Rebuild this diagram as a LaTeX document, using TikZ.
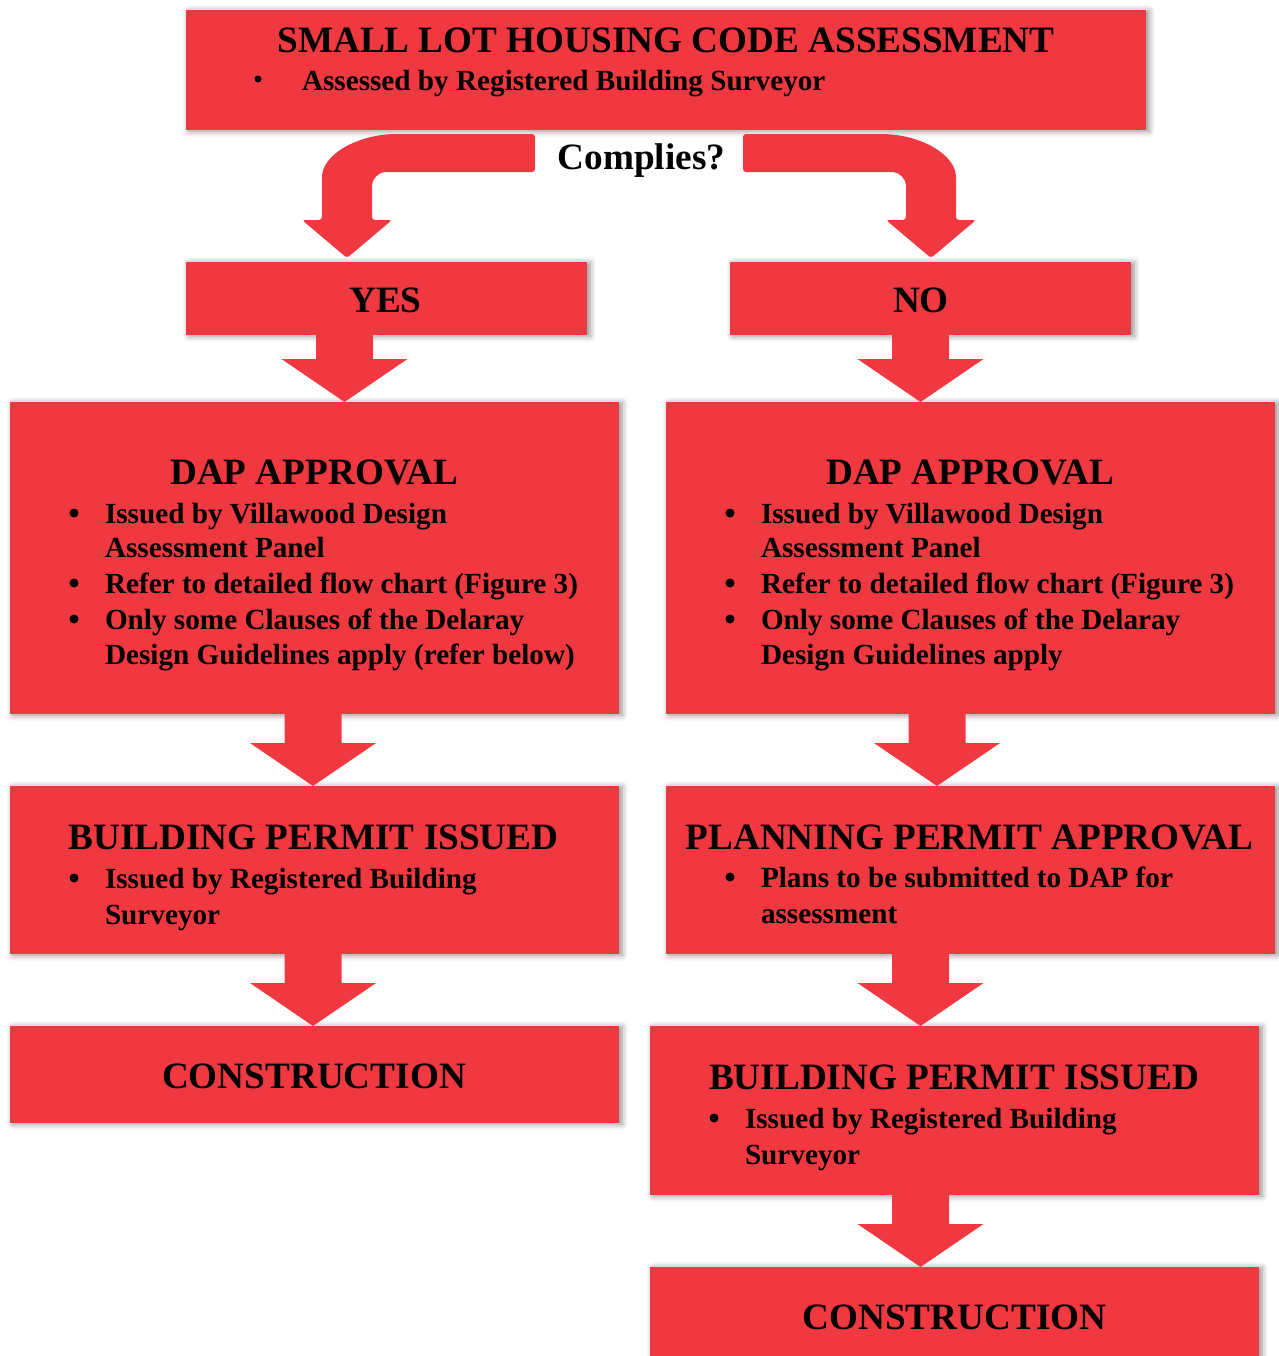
\documentclass[tikz,border=0pt]{standalone}
\usepackage{fontspec}
\setmainfont{Liberation Serif}
\usepackage{xcolor}
\usetikzlibrary{calc, shadows.blur}
\definecolor{vermelho}{RGB}{239,56,64}

\begin{document}
\begin{tikzpicture}[
		    x=0.5pt, y=-0.5pt,
		    every node/.style={inner sep=0pt, outer sep=0pt}
		]
		\tikzset{
		    caixa/.style={fill=vermelho, blur shadow={shadow xshift=1.5pt, shadow yshift=-0.5pt, shadow blur radius=3pt, shadow opacity=45}},
		    titulo/.style={anchor=base, font=\bfseries\fontsize{18.6}{22}\selectfont},
		    texto/.style={anchor=base west, font=\bfseries\fontsize{14.6}{17.5}\selectfont},
		    marca/.style={circle, fill=black, minimum size=4.5pt},
		    marquinha/.style={circle, fill=black, minimum size=3.5pt},
		    seta/.style={fill=vermelho, to path={
		        let \p1=(\tikztostart), \p2=(\tikztotarget) in
		        (\x1-14.25pt,\y1) -- (\x1-14.25pt,\y2+21.5pt) -- (\x1-31.5pt,\y2+21.5pt)
		        -- (\x1,\y2) -- (\x1+31.5pt,\y2+21.5pt) -- (\x1+14.25pt,\y2+21.5pt)
		        -- (\x1+14.25pt,\y1) -- cycle}}
		}
		\useasboundingbox (0,0) rectangle (1279,1356);

		% caixas
		\node[caixa, minimum width=480pt, minimum height=60pt] (topo) at (666,70) {};
		\node[caixa, minimum width=200.5pt, minimum height=36.5pt] (yes) at (386.5,298.5) {};
		\node[caixa, minimum width=200.5pt, minimum height=36.5pt] (no) at (930.5,298.5) {};
		\node[caixa, minimum width=304.5pt, minimum height=156pt] (dap1) at (314.5,558) {};
		\node[caixa, minimum width=304.5pt, minimum height=156pt] (dap2) at (970.5,558) {};
		\node[caixa, minimum width=304.5pt, minimum height=84pt] (bp1) at (314.5,870) {};
		\node[caixa, minimum width=304.5pt, minimum height=84pt] (ppa) at (970.5,870) {};
		\node[caixa, minimum width=304.5pt, minimum height=48.5pt] (con1) at (314.5,1074.5) {};
		\node[caixa, minimum width=304.5pt, minimum height=84.5pt] (bp2) at (954.5,1110.5) {};
		\node[caixa, minimum width=304.5pt, minimum height=56.5pt] (con2) at (954.5,1323.5) {};

		% setas curvas
		\fill[vermelho, rounded corners=1.5pt] (535,134) -- (400,134) .. controls (357,134) and (322,155) .. (322,180)
		  -- (322,220) -- (302,220) -- (347,258) -- (392,220) -- (372,220) -- (372,188)
		  .. controls (372,179) and (379,172) .. (388,172) -- (535,172) -- cycle;
		\begin{scope}[xshift=639pt, xscale=-1]
		\fill[vermelho, rounded corners=1.5pt] (535,134) -- (400,134) .. controls (357,134) and (322,155) .. (322,180)
		  -- (322,220) -- (302,220) -- (347,258) -- (392,220) -- (372,220) -- (372,188)
		  .. controls (372,179) and (379,172) .. (388,172) -- (535,172) -- cycle;
		\end{scope}

		% setas
		\path[seta] ([xshift=-21pt]yes.south) to (dap1.north);
		\path[seta] ([xshift=-5pt]no.south) to (dap2.north);
		\path[seta] ([xshift=-0.75pt]dap1.south) to (bp1.north);
		\path[seta] ([xshift=-16.75pt]dap2.south) to (ppa.north);
		\path[seta] ([xshift=-0.75pt]bp1.south) to (con1.north);
		\path[seta] ([xshift=-25pt]ppa.south) to (bp2.north);
		\path[seta] ([xshift=-17pt]bp2.south) to (con2.north);

		% textos
		\node[titulo] (topot) at (666,52) {SMALL LOT HOUSING CODE ASSESSMENT};
		\node[marquinha] (topob) at (258,79) {};
		\node[texto] (topoa) at (302,90) {Assessed by Registered Building Surveyor};
		\node[titulo] (pergunta) at (641.5,169) {Complies?};
		\node[titulo] (yest) at (385.5,312) {YES};
		\node[titulo] (not) at (921,312) {NO};

		\node[titulo] (dap1t) at (314,484) {DAP APPROVAL};
		\node[marca] (dap1b1) at (74,513) {};
		\node[texto] (dap1a) at (105,523) {Issued by Villawood Design};
		\node[texto] (dap1c) at (105,557) {Assessment Panel};
		\node[marca] (dap1b2) at (74,583) {};
		\node[texto] (dap1d) at (105,593) {Refer to detailed flow chart (Figure 3)};
		\node[marca] (dap1b3) at (74,619) {};
		\node[texto] (dap1e) at (105,629) {Only some Clauses of the Delaray};
		\node[texto] (dap1f) at (105,664) {Design Guidelines apply (refer below)};

		\node[titulo] (dap2t) at (970,484) {DAP APPROVAL};
		\node[marca] (dap2b1) at (730,513) {};
		\node[texto] (dap2a) at (761,523) {Issued by Villawood Design};
		\node[texto] (dap2c) at (761,557) {Assessment Panel};
		\node[marca] (dap2b2) at (730,583) {};
		\node[texto] (dap2d) at (761,593) {Refer to detailed flow chart (Figure 3)};
		\node[marca] (dap2b3) at (730,619) {};
		\node[texto] (dap2e) at (761,629) {Only some Clauses of the Delaray};
		\node[texto] (dap2f) at (761,664) {Design Guidelines apply};

		\node[titulo] (bp1t) at (313.5,849) {BUILDING PERMIT ISSUED};
		\node[marca] (bp1b) at (74,878) {};
		\node[texto] (bp1a) at (105,888) {Issued by Registered Building};
		\node[texto] (bp1c) at (105,924) {Surveyor};

		\node[titulo] (ppat) at (969.5,849) {PLANNING PERMIT APPROVAL};
		\node[marca] (ppab) at (730,877) {};
		\node[texto] (ppaa) at (761,887) {Plans to be submitted to DAP for};
		\node[texto] (ppac) at (761,923) {assessment};

		\node[titulo] (con1t) at (314,1088) {CONSTRUCTION};

		\node[titulo] (bp2t) at (954,1089) {BUILDING PERMIT ISSUED};
		\node[marca] (bp2b) at (714,1118) {};
		\node[texto] (bp2a) at (745,1128) {Issued by Registered Building};
		\node[texto] (bp2c) at (745,1164) {Surveyor};

		\node[titulo] (con2t) at (954.5,1329) {CONSTRUCTION};
		\end{tikzpicture}
\end{document}
